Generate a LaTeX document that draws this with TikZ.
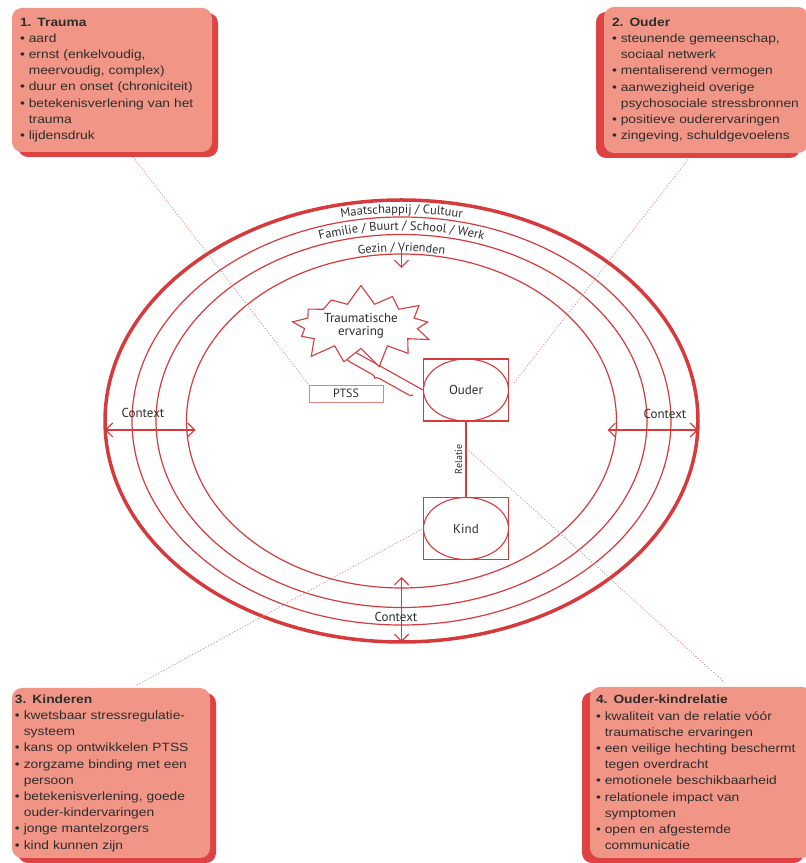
\documentclass[tikz,border=0pt]{standalone}
\usepackage{fontspec}
\setmainfont{PT Sans}
\newfontfamily\boxfont[FakeStretch=1.15]{Liberation Sans}
\usetikzlibrary{shapes.geometric,shapes.symbols,shadows,arrows.meta,decorations.text,decorations.pathreplacing,calc}

\definecolor{ringred}{RGB}{214,58,60}
\definecolor{salmon}{RGB}{241,150,134}
\definecolor{shadowred}{RGB}{222,66,66}
\definecolor{dotred}{RGB}{222,130,128}
\definecolor{inkgray}{RGB}{45,45,45}

\newcommand{\bul}{\textbullet\ }
\newcommand{\ind}{\phantom{\textbullet\ }}

\tikzset{
  ring/.style={ellipse, draw=ringred, line width=1.2pt, inner sep=0pt, outer sep=0pt},
  infobox/.style={fill=salmon, rounded corners=10pt, align=left, text=inkgray,
    inner ysep=0pt, font=\boxfont\fontsize{12}{16.2}\selectfont},
  person/.style={draw=ringred, line width=1.1pt, minimum width=85pt, minimum height=62pt,
    text=inkgray, font=\fontsize{13}{15}\selectfont,
    path picture={\draw[ringred, line width=1.1pt] (path picture bounding box.center)
      ellipse [x radius=42.5pt, y radius=31pt];}},
  burst/.style={starburst, draw=ringred, fill=white, line width=1.1pt, starburst points=13,
    starburst point height=20pt, random starburst=7, minimum width=140pt, minimum height=70pt,
    align=center, text=inkgray, font=\fontsize{13}{13}\selectfont},
  ctx/.style={color=ringred, line width=1.1pt, >={Straight Barb[length=7pt,width=14pt]}},
  dotline/.style={dotred, line width=0.7pt, dash pattern=on 1.2pt off 1.8pt},
  lbl/.style={text=inkgray, font=\fontsize{13}{15}\selectfont}
}

\begin{document}
\begin{tikzpicture}[x=1pt, y=1pt]
\useasboundingbox (0,0) rectangle (806,863);

% context rings
\node[ring, line width=3.5pt, minimum width=593pt, minimum height=442pt] (society) at (401.5,442) {};
\node[ring, minimum width=539pt, minimum height=408pt] (family) at (401.5,442) {};
\node[ring, minimum width=491pt, minimum height=373pt] (household) at (401.5,442) {};
\node[ring, minimum width=430pt, minimum height=334pt] (inner) at (401.5,442) {};

\path[decorate, decoration={text along path, text align=center, text color=inkgray,
    text={|\fontsize{12.5}{14}\selectfont|Maatschappij / Cultuur}}]
  (401.5,442) ++(125:281pt and 208pt) arc [start angle=125, end angle=55, x radius=281pt, y radius=208pt];
\path[decorate, decoration={text along path, text align=center, text color=inkgray,
    text={|\fontsize{12.5}{14}\selectfont|Familie / Buurt / School / Werk}}]
  (401.5,442) ++(125:257pt and 191pt) arc [start angle=125, end angle=55, x radius=257pt, y radius=191pt];
\path[decorate, decoration={text along path, text align=center, text color=inkgray,
    text={|\fontsize{12.2}{14}\selectfont|Gezin / Vrienden}}]
  (401.5,442) ++(125:226pt and 169.5pt) arc [start angle=125, end angle=55, x radius=226pt, y radius=169.5pt];

% context arrows
\draw[ctx, <->] ($(society.west)+(0,-9)$) -- ($(inner.west)+(9,-9)$);
\draw[ctx, <->] ($(inner.east)+(-9,-9)$) -- ($(society.east)+(0,-9)$);
\draw[ctx, <->] ($(inner.south)+(0,11)$) -- (society.south);
\draw[ctx, ->] ($(inner.north)+(0,3)$) -- ($(inner.north)+(0,-14)$);
\node[lbl] (ctxleft) at (143,450) {Context};
\node[lbl] (ctxright) at (665,449) {Context};
\node[lbl] (ctxbottom) at (396,246) {Context};

% parent and child
\node[person] (ouder) at (466,473) {Ouder};
\node[person] (kind) at (466,334.5) {Kind};
\draw[ctx] (kind) -- node[lbl, midway, sloped, above, font=\fontsize{10}{12}\selectfont] (relatie) {Relatie} (ouder);

\node[draw=dotred, line width=0.8pt, minimum width=74pt, minimum height=17pt, inner sep=0pt,
  lbl, font=\fontsize{12}{14}\selectfont] (ptss) at (346,469.5) {PTSS};

% trauma tail
\coordinate (tailtop) at (355,511);
\coordinate (tailbot) at (347,505);
\draw[ctx] (tailtop) -- (ouder.west);
\draw[ctx, decorate, decoration={brace, amplitude=4pt, aspect=0.55}] ($(ouder.west)+(-10,-5)$) -- (tailbot);
\node[burst] (event) at (361,537) {Traumatische\\ervaring};

% dotted pointers
\coordinate (p1) at (133,706);
\coordinate (p2) at (690,706);
\coordinate (p3) at (137,178);
\coordinate (p4) at (723,182);
\coordinate (ouderhook) at (514,480);
\coordinate (relhook) at ($(ouder.south)!0.35!(kind.north)$);
\draw[dotline] (p1) -- (ptss.north west);
\draw[dotline] (p2) -- (ouderhook);
\draw[dotline] (p3) -- (kind.west);
\draw[dotline] (p4) -- (relhook);

% info boxes
\node[infobox, general shadow={fill=shadowred, shadow xshift=6pt, shadow yshift=-5pt},
  minimum width=200pt, minimum height=144pt, inner xsep=8pt, text width=184pt] (trauma) at (112,783)
  {\textbf{1. Trauma}\\
   \bul aard\\
   \bul ernst (enkelvoudig,\\
   \ind meervoudig, complex)\\
   \bul duur en onset (chroniciteit)\\
   \bul betekenisverlening van het\\
   \ind trauma\\
   \bul lijdensdruk};

\node[infobox, general shadow={fill=shadowred, shadow xshift=-8pt, shadow yshift=-5pt},
  minimum width=204pt, minimum height=146pt, inner xsep=8pt, text width=188pt] (parent) at (706,783)
  {\textbf{2. Ouder}\\
   \bul steunende gemeenschap,\\
   \ind sociaal netwerk\\
   \bul mentaliserend vermogen\\
   \bul aanwezigheid overige\\
   \ind psychosociale stressbronnen\\
   \bul positieve ouderervaringen\\
   \bul zingeving, schuldgevoelens};

\node[infobox, general shadow={fill=shadowred, shadow xshift=6pt, shadow yshift=-5pt},
  minimum width=198pt, minimum height=170pt, inner xsep=3pt, text width=192pt] (children) at (111,90)
  {\textbf{3. Kinderen}\\
   \bul kwetsbaar stressregulatie-\\
   \ind systeem\\
   \bul kans op ontwikkelen PTSS\\
   \bul zorgzame binding met een\\
   \ind persoon\\
   \bul betekenisverlening, goede\\
   \ind ouder-kindervaringen\\
   \bul jonge mantelzorgers\\
   \bul kind kunnen zijn};

\node[infobox, general shadow={fill=shadowred, shadow xshift=-8pt, shadow yshift=-5pt},
  minimum width=222pt, minimum height=171pt, inner xsep=6pt, text width=210pt] (relation) at (701,90.5)
  {\textbf{4. Ouder-kindrelatie}\\
   \bul kwaliteit van de relatie vóór\\
   \ind traumatische ervaringen\\
   \bul een veilige hechting beschermt\\
   \ind tegen overdracht\\
   \bul emotionele beschikbaarheid\\
   \bul relationele impact van\\
   \ind symptomen\\
   \bul open en afgestemde\\
   \ind communicatie};
\end{tikzpicture}
\end{document}
